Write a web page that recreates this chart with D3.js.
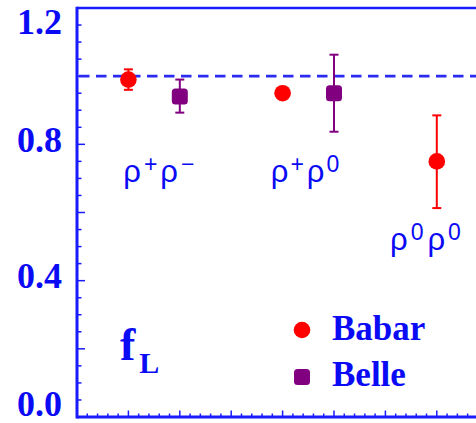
<!DOCTYPE html>
<html>
<head>
<meta charset="utf-8">
<script src="https://cdn.jsdelivr.net/npm/d3@7"></script>
<style>
  html, body { margin: 0; padding: 0; background: #fff; }
  svg { display: block; }
</style>
</head>
<body>
<svg id="chart" width="476" height="423"></svg>
<script>
// Longitudinal polarization fraction f_L for B -> rho rho modes
const categories = ["ρ+ρ−", "ρ+ρ0", "ρ0ρ0"];

// BaBar measurements (x slot, value, errors)
const babarX = [1, 4, 7];
const babarFL = [0.99, 0.95, 0.75];
const babarErrUp = [0.03, 0.015, 0.135];
const babarErrDn = [0.03, 0.015, 0.137];

// Belle measurements
const belleX = [2, 5];
const belleFL = [0.94, 0.95];
const belleErrUp = [0.05, 0.113];
const belleErrDn = [0.047, 0.113];

// Reference line and axis labels
const referenceFL = 1.0;
const yTickLabels = [0.0, 0.4, 0.8, 1.2];

const legendNames = ["Babar", "Belle"];

// Category label anchors, in data units
const catLabelX = [0.9, 3.77, 6.09];
const catLabelY = [0.69, 0.69, 0.49];

const BLUE = "#1a1aff";
const TEXT_BLUE = "#0a0af5";
const RED = "#ff0000";
const PURPLE = "#800080";

const svg = d3.select("#chart");

const x = d3.scaleLinear().domain([0, 8]).range([77, 77 + 8 * 51.4]);
const y = d3.scaleLinear().domain([0, 1.2]).range([417, 8]);

// Frame: left axis, bottom axis, top border
const g = svg.append("g");

// minor / major ticks on the left axis (pointing inward)
const yMinor = d3.range(0, 1.2001, 0.05);
g.selectAll("line.ytick").data(yMinor).join("line")
  .attr("x1", x(0)).attr("x2", d => x(0) + (Math.abs(d / 0.2 - Math.round(d / 0.2)) < 1e-6 ? 8 : 4.5))
  .attr("y1", d => y(d)).attr("y2", d => y(d))
  .attr("stroke", BLUE).attr("stroke-width", 1.5);

// ticks on the bottom axis (pointing upward)
const xMinor = d3.range(0, 8.0001, 0.2);
g.selectAll("line.xtick").data(xMinor).join("line")
  .attr("x1", d => x(d)).attr("x2", d => x(d))
  .attr("y1", y(0)).attr("y2", d => y(0) - (Math.abs(d - Math.round(d)) < 1e-6 ? 6.5 : 3.5))
  .attr("stroke", BLUE).attr("stroke-width", 1.5);

g.append("line").attr("x1", x(0)).attr("x2", x(8)).attr("y1", y(0)).attr("y2", y(0))
  .attr("stroke", BLUE).attr("stroke-width", 3.2);
g.append("line").attr("x1", x(0)).attr("x2", x(0)).attr("y1", y(0) + 1.6).attr("y2", y(1.2) - 1.2)
  .attr("stroke", BLUE).attr("stroke-width", 3);
g.append("line").attr("x1", x(0)).attr("x2", x(8)).attr("y1", y(1.2)).attr("y2", y(1.2))
  .attr("stroke", BLUE).attr("stroke-width", 2.5);

// y tick labels (kept inside the drawing area at both ends)
svg.selectAll("text.ylab").data(yTickLabels).join("text")
  .attr("x", 62)
  .attr("y", d => Math.min(Math.max(y(d) - 5, 21), 403))
  .attr("dy", "0.35em")
  .attr("text-anchor", "end")
  .attr("font-family", "'Liberation Serif', 'Times New Roman', serif")
  .attr("font-weight", "bold")
  .attr("font-size", 36)
  .attr("fill", TEXT_BLUE)
  .text(d => d.toFixed(1));

// dashed reference line at f_L = 1
svg.append("line")
  .attr("x1", x(0) + 2).attr("x2", x(8)).attr("y1", y(referenceFL)).attr("y2", y(referenceFL))
  .attr("stroke", "#2a2af0").attr("stroke-width", 2.7)
  .attr("stroke-dasharray", "10.5,6.5");

// error bars
function drawErrors(xs, vs, up, dn, color) {
  const rows = xs.map((xv, i) => ({ x: xv, v: vs[i], hi: vs[i] + up[i], lo: vs[i] - dn[i] }));
  const eg = svg.append("g").attr("stroke", color).attr("stroke-width", 2);
  eg.selectAll("line.v").data(rows).join("line")
    .attr("x1", d => x(d.x)).attr("x2", d => x(d.x))
    .attr("y1", d => y(d.hi)).attr("y2", d => y(d.lo));
  eg.selectAll("line.hi").data(rows).join("line")
    .attr("x1", d => x(d.x) - 4.5).attr("x2", d => x(d.x) + 4.5)
    .attr("y1", d => y(d.hi)).attr("y2", d => y(d.hi));
  eg.selectAll("line.lo").data(rows).join("line")
    .attr("x1", d => x(d.x) - 4.5).attr("x2", d => x(d.x) + 4.5)
    .attr("y1", d => y(d.lo)).attr("y2", d => y(d.lo));
  return rows;
}

const babarRows = drawErrors(babarX, babarFL, babarErrUp, babarErrDn, RED);
const belleRows = drawErrors(belleX, belleFL, belleErrUp, belleErrDn, PURPLE);

svg.selectAll("circle.babar").data(babarRows).join("circle")
  .attr("cx", d => x(d.x)).attr("cy", d => y(d.v)).attr("r", 8.3)
  .attr("fill", RED);

const sq = 16;
svg.selectAll("rect.belle").data(belleRows).join("rect")
  .attr("x", d => x(d.x) - sq / 2).attr("y", d => y(d.v) - sq / 2)
  .attr("width", sq).attr("height", sq).attr("rx", 3.5)
  .attr("fill", PURPLE);

// category labels with superscript charges
const catParts = [
  [["ρ", "+"], ["ρ", "−"]],
  [["ρ", "+"], ["ρ", "0"]],
  [["ρ", "0"], ["ρ", "0"]]
];
categories.forEach((c, i) => {
  const t = svg.append("text")
    .attr("x", x(catLabelX[i])).attr("y", y(catLabelY[i]))
    .attr("font-family", "'Liberation Sans', Arial, sans-serif")
    .attr("font-size", 31)
    .attr("fill", TEXT_BLUE);
  catParts[i].forEach((p, k) => {
    t.append("tspan").attr("dx", k === 0 ? 0 : (i === 2 ? 4 : 3)).attr("dy", k === 0 ? 0 : 10).text(p[0]);
    t.append("tspan").attr("font-size", 23).attr("dx", i === 2 ? 3 : (i === 0 ? 3 : 2)).attr("dy", -10).text(p[1]);
  });
});

// f_L label
const fl = svg.append("text")
  .attr("x", 120).attr("y", 360)
  .attr("font-family", "'Liberation Serif', 'Times New Roman', serif")
  .attr("font-weight", "bold")
  .attr("fill", TEXT_BLUE);
fl.append("tspan").attr("font-size", 46).text("f");
fl.append("tspan").attr("font-size", 30).attr("dx", 4).attr("dy", 13).text("L");

// legend
const legend = svg.append("g").attr("transform", "translate(302,0)");
legend.append("circle").attr("cx", 0).attr("cy", 330).attr("r", 8.3).attr("fill", RED);
legend.append("rect").attr("x", -8).attr("y", 369).attr("width", 16).attr("height", 16).attr("rx", 3.5).attr("fill", PURPLE);
legend.selectAll("text").data(legendNames).join("text")
  .attr("x", 30).attr("y", (d, i) => i === 0 ? 340 : 386)
  .attr("font-family", "'Liberation Serif', 'Times New Roman', serif")
  .attr("font-weight", "bold")
  .attr("font-size", 35)
  .attr("fill", TEXT_BLUE)
  .text(d => d);
</script>
</body>
</html>
